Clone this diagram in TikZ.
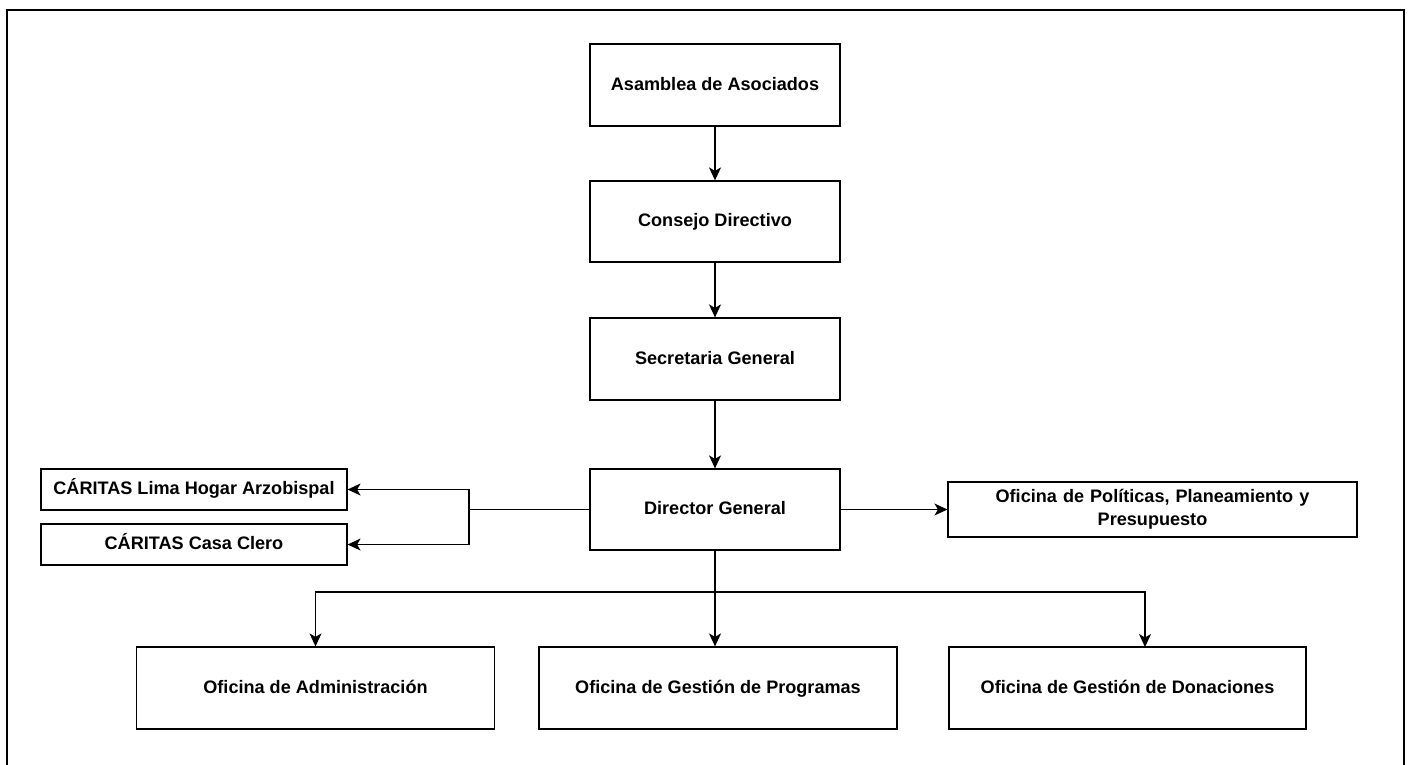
\documentclass[tikz,border=0pt]{standalone}
\usepackage{fontspec}
\setmainfont{Liberation Sans}
\usetikzlibrary{arrows.meta}
\begin{document}
\begin{tikzpicture}[x=0.02cm,y=-0.02cm,
  caja/.style={draw=black,line width=0.7pt,fill=white,inner sep=0pt,align=center,
    font=\fontsize{10.3}{13}\selectfont\bfseries},
  unalinea/.style={caja,text height=1.6ex,text depth=0.45ex},
  flecha/.style={draw=black,line width=0.7pt,-{Stealth[length=2.6mm,width=2.4mm,inset=0.7mm]}},
  linea/.style={draw=black,line width=0.7pt}]
\useasboundingbox (0,0) rectangle (1412,764);
\draw [black,line width=1.6pt] (7,780) -- (7,10) -- (1404,10) -- (1404,780);
\node [unalinea,minimum width=5cm,minimum height=1.64cm] (asamblea) at (715,85) {Asamblea de Asociados};
\node [unalinea,minimum width=5cm,minimum height=1.62cm] (consejo) at (715,221.5) {Consejo Directivo};
\node [unalinea,minimum width=5cm,minimum height=1.64cm] (secretaria) at (715,359) {Secretaria General};
\node [unalinea,minimum width=5cm,minimum height=1.62cm] (director) at (715,509.5) {Director General};
\node [unalinea,minimum width=6.12cm,minimum height=0.82cm] (lima) at (194,489.5) {C\'ARITAS Lima Hogar Arzobispal};
\node [unalinea,minimum width=6.12cm,minimum height=0.82cm] (clero) at (194,544.5) {C\'ARITAS Casa Clero};
\node [caja,minimum width=8.18cm,minimum height=1.1cm,text width=7.6cm] (politicas) at (1152.5,509.5) {Oficina de Pol\'iticas, Planeamiento y\\Presupuesto};
\node [unalinea,minimum width=7.16cm,minimum height=1.64cm] (admin) at (315.5,688) {Oficina de Administraci\'on};
\node [unalinea,minimum width=7.16cm,minimum height=1.64cm] (programas) at (718,688) {Oficina de Gesti\'on de Programas};
\node [unalinea,minimum width=7.14cm,minimum height=1.64cm] (donaciones) at (1127.5,688) {Oficina de Gesti\'on de Donaciones};
\coordinate (rama) at (469,509.5);
\coordinate (bus) at (715,592);
\coordinate (entradadon) at (1145,647);
\draw [flecha] (asamblea.south) -- (consejo.north);
\draw [flecha] (consejo.south) -- (secretaria.north);
\draw [flecha] (secretaria.south) -- (director.north);
\draw [linea] (director.west) -- (rama);
\draw [flecha] (rama) |- (lima.east);
\draw [flecha] (rama) |- (clero.east);
\draw [flecha] (director.east) -- (politicas.west);
\draw [flecha] (director.south) -- (director.south |- programas.north);
\draw [flecha] (bus) -| (admin.north);
\draw [flecha] (bus) -| (entradadon);
\end{tikzpicture}
\end{document}
